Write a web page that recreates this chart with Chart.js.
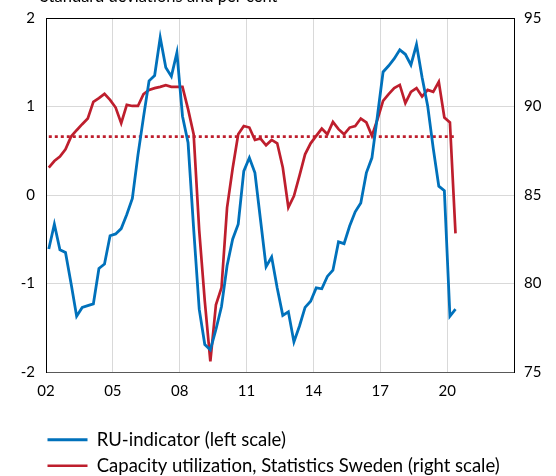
<!DOCTYPE html>
<html>
<head>
<meta charset="utf-8">
<script src="https://cdn.jsdelivr.net/npm/chart.js@4.4.0/dist/chart.umd.min.js"></script>
<style>
  html, body { margin: 0; padding: 0; background: #fff; overflow: hidden; }
  #wrap { position: absolute; left: 0; top: -15px; width: 556px; height: 500px; }
</style>
</head>
<body>
<div id="wrap"><canvas id="ruChart"></canvas></div>
<script>
// quarters 2002Q1 - 2020Q2
var quarters = [];
for (var y = 2002; y <= 2020; y++) {
  for (var q = 1; q <= 4; q++) {
    if (y === 2020 && q > 2) break;
    quarters.push(y + 'Q' + q);
  }
}

// RU-indicator, standard deviations (left scale)
var ruIndicator = [
  -0.61, -0.33, -0.62, -0.65, -1.00, -1.37, -1.27, -1.25,
  -1.23, -0.83, -0.78, -0.46, -0.44, -0.38, -0.22, -0.04,
   0.45,  0.88,  1.29,  1.35,  1.78,  1.44,  1.34,  1.61,
   0.89,  0.59, -0.38, -1.29, -1.69, -1.75, -1.52, -1.26,
  -0.80, -0.50, -0.33,  0.27,  0.42,  0.25, -0.28, -0.81,
  -0.70, -1.05, -1.36, -1.32, -1.66, -1.48, -1.27, -1.20,
  -1.05, -1.06, -0.92, -0.85, -0.53, -0.55, -0.35, -0.19,
  -0.09,  0.25,  0.42,  0.90,  1.39,  1.46,  1.54,  1.64,
   1.59,  1.47,  1.70,  1.33,  1.01,  0.53,  0.10,  0.05,
  -1.37, -1.29
];

// capacity utilization, per cent (right scale)
var capacityUtil = [
  86.55, 86.92, 87.17, 87.58, 88.30, 88.66, 89.00, 89.32,
  90.26, 90.47, 90.71, 90.37, 89.94, 89.06, 90.09, 90.03,
  90.03, 90.70, 90.94, 91.04, 91.11, 91.20, 91.11, 91.11,
  91.11, 89.85, 88.43, 83.00, 79.00, 75.60, 78.80, 79.76,
  84.29, 86.50, 88.43, 88.90, 88.81, 88.11, 88.19, 87.81,
  88.11, 87.92, 86.55, 84.30, 84.94, 86.10, 87.30, 87.92,
  88.34, 88.75, 88.43, 89.13, 88.72, 88.43, 88.81, 88.90,
  89.32, 89.10, 88.34, 89.28, 90.32, 90.70, 91.04, 91.22,
  90.19, 90.83, 91.04, 90.56, 90.94, 90.83, 91.39, 89.38,
  89.10, 82.83
];

// average capacity utilization over the period
var capacityAvg = 88.3;

var leftTicks = [-2, -1, 0, 1, 2];
var rightTicks = [75, 80, 85, 90, 95];
var yearTicks = [2002, 2005, 2008, 2011, 2014, 2017, 2020];

var BLUE = '#0071bb';
var RED = '#be1e2d';
var FONT = 'Lato';

// place each quarter in the middle of its slot on the year axis
function quarterX(label) {
  var yr = parseInt(label.slice(0, 4), 10);
  var qt = parseInt(label.slice(5), 10);
  return yr + (qt - 0.5) / 4;
}

function toPoints(values) {
  return values.map(function (v, i) {
    return { x: quarterX(quarters[i]), y: v };
  });
}

// title and legend start near the plot's left edge, not at the canvas edge
var alignBlocks = {
  id: 'alignBlocks',
  afterLayout: function (chart) {
    chart.titleBlock.left = 40;
    chart.legend.left = 40;
  }
};

var ctx = document.getElementById('ruChart').getContext('2d');
var chart = new Chart(ctx, {
  type: 'line',
  data: {
    datasets: [
      {
        label: 'RU-indicator (left scale)',
        data: toPoints(ruIndicator),
        yAxisID: 'y',
        borderColor: BLUE,
        backgroundColor: BLUE,
        borderWidth: 2.8,
        pointRadius: 0,
        tension: 0
      },
      {
        label: 'Capacity utilization, Statistics Sweden (right scale)',
        data: toPoints(capacityUtil),
        yAxisID: 'y2',
        borderColor: RED,
        backgroundColor: RED,
        borderWidth: 2.7,
        pointRadius: 0,
        tension: 0
      },
      {
        label: 'average',
        data: toPoints(quarters.map(function () { return capacityAvg; })),
        yAxisID: 'y2',
        borderColor: RED,
        borderWidth: 2.6,
        borderDash: [3, 3],
        pointRadius: 0
      }
    ]
  },
  options: {
    responsive: true,
    maintainAspectRatio: false,
    animation: false,
    events: [],
    layout: { padding: 0 },
    scales: {
      x: {
        type: 'linear',
        min: 2002,
        max: 2023,
        afterBuildTicks: function (scale) {
          scale.ticks = yearTicks.concat([2023]).map(function (v) { return { value: v }; });
        },
        afterFit: function (scale) { scale.height = 51; },
        ticks: {
          padding: 10,
          color: '#000',
          font: { family: FONT, size: 15 },
          maxRotation: 0,
          callback: function (v) {
            return v === 2023 ? '' : String(v % 100).padStart(2, '0');
          }
        },
        grid: {
          drawTicks: false,
          lineWidth: 1,
          color: function (c) {
            return c.tick && c.tick.value === 2023 ? '#000' : '#d9d9d9';
          }
        },
        border: { color: '#595959', width: 1 }
      },
      y: {
        position: 'left',
        min: -2,
        max: 2,
        afterBuildTicks: function (scale) {
          scale.ticks = leftTicks.map(function (v) { return { value: v }; });
        },
        afterFit: function (scale) { scale.width = 46; },
        ticks: {
          padding: 11,
          color: '#000',
          font: { family: FONT, size: 15 }
        },
        grid: {
          drawTicks: false,
          lineWidth: 1,
          color: function (c) {
            if (!c.tick) return '#d9d9d9';
            if (c.tick.value === 2) return '#000';
            if (c.tick.value === -2) return '#595959';
            return '#d9d9d9';
          }
        },
        border: { color: '#000', width: 1 }
      },
      y2: {
        position: 'right',
        min: 75,
        max: 95,
        afterBuildTicks: function (scale) {
          scale.ticks = rightTicks.map(function (v) { return { value: v }; });
        },
        afterFit: function (scale) { scale.width = 42; },
        ticks: {
          padding: 10,
          color: '#000',
          font: { family: FONT, size: 15 }
        },
        grid: { display: false, drawTicks: false },
        border: { color: '#000', width: 1 }
      }
    },
    plugins: {
      title: {
        display: true,
        text: 'Standard deviations and per cent',
        align: 'start',
        color: '#000',
        font: { family: FONT, size: 16.5, weight: 'normal' },
        padding: { top: 1.7, bottom: 11.5 }
      },
      legend: {
        position: 'bottom',
        align: 'start',
        labels: {
          usePointStyle: true,
          pointStyle: 'line',
          pointStyleWidth: 40,
          padding: 7.5,
          color: '#000',
          font: { family: FONT, size: 18.5 },
          filter: function (item) { return item.datasetIndex < 2; }
        }
      },
      tooltip: { enabled: false }
    }
  },
  plugins: [alignBlocks]
});
</script>
</body>
</html>
